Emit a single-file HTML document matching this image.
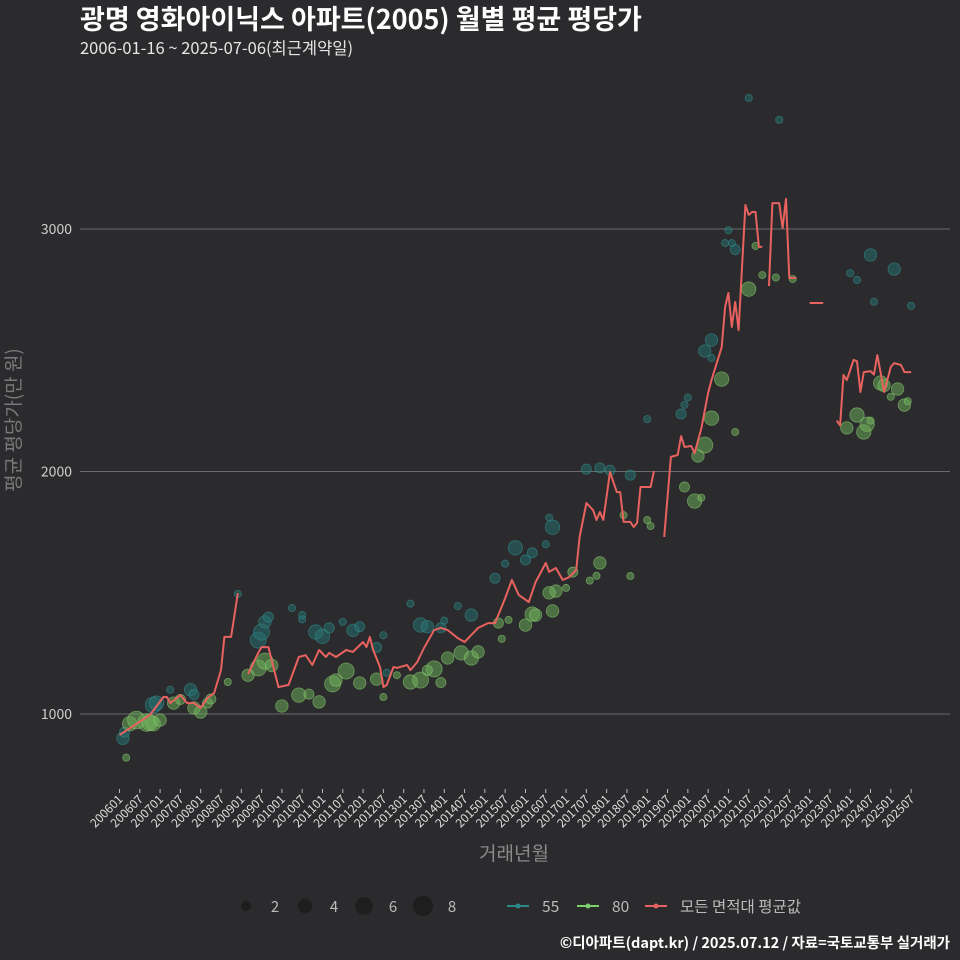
<!DOCTYPE html>
<html><head><meta charset="utf-8">
<style>
body{margin:0;background:#2b2b2d;}
svg{display:block;font-family:"Noto Sans CJK KR","Liberation Sans",sans-serif;}
</style></head>
<body>
<svg id="chart" width="960" height="960" viewBox="0 0 960 960">
<rect width="960" height="960" fill="#2b2b2d"/>
<text x="80" y="29" fill="#ffffff" font-size="27" font-weight="bold">광명 영화아이닉스 아파트(2005) 월별 평균 평당가</text>
<text x="80" y="54" fill="#e6e6e6" font-size="16.5">2006-01-16 ~ 2025-07-06(최근계약일)</text>
<g id="grid"></g>
<g id="yticks"></g>
<g id="xticks"></g>
<g id="bubbles"></g>
<g id="line"></g>
<text transform="translate(20,420) rotate(-90)" text-anchor="middle" fill="#7a7a7a" font-size="19">평균 평당가(만 원)</text>
<text x="514" y="860" text-anchor="middle" fill="#8a8a8a" font-size="19">거래년월</text>
<g id="legend"></g>
<text x="950" y="948" text-anchor="end" fill="#ffffff" font-size="14.5" font-weight="bold">©디아파트(dapt.kr) / 2025.07.12 / 자료=국토교통부 실거래가</text>
</svg>
<script>
// ---- data ----
const yTicks = [1000, 2000, 3000];
const xTickLabels = ["200601","200607","200701","200707","200801","200807","200901","200907","201001","201007","201101","201107","201201","201207","201301","201307","201401","201407","201501","201507","201601","201607","201701","201707","201801","201807","201901","201907","202001","202007","202101","202107","202201","202207","202301","202307","202401","202407","202501","202507"];
// month index since 2006-01; null = gap
const lineMonths = [0,9,13,14,15,18,20,22,24,26,28,30,31,33,35,null,38,41,42,44,47,50,53,55,57,59,61,62,64,67,69,72,73,74,75,77,78,79,81,82,85,86,88,90,93,95,97,100,102,106,109,111,114,116,118,121,123,126,127,129,131,133,135,136,138,140,141,142,143,145,147,148,149,151,152,153,154,157,158,null,161,163,165,166,167,169,170,172,174,175,178,179,180,181,182,183,185,186,187,188,189,190,null,192,193,195,196,197,198,200,null,204,208,null,212,213,214,215,217,218,219,220,222,223,224,225,226,228,229,231,232,234];
const lineValues = [913,996,1070,1070,1045,1078,1045,1045,1025,1066,1087,1181,1318,1318,1499,null,1165,1252,1276,1276,1111,1120,1235,1243,1202,1264,1235,1252,1235,1264,1256,1297,1276,1318,1264,1194,1111,1120,1194,1190,1202,1181,1214,1272,1346,1355,1346,1313,1297,1355,1375,1375,1478,1553,1491,1462,1544,1623,1586,1602,1553,1565,1594,1730,1870,1841,1800,1833,1800,1998,1915,1915,1792,1792,1771,1788,1936,1936,2002,null,1730,2060,2068,2146,2101,2105,2076,2179,2324,2377,2513,2678,2736,2596,2699,2583,3099,3058,3070,3070,2926,2926,null,2765,3107,3107,3004,3124,2798,2798,null,2695,2695,null,2210,2190,2398,2377,2460,2455,2328,2410,2414,2400,2480,2406,2328,2431,2447,2439,2410,2410];
const s55Months = [1,1.5,10,11,15,21,22,35,41,42,43,44,54,58,60,62,66,69,71,51,54,76,78,79,89,91,86,95,104,100,96,111,114,117,120,122,126,128,127,138,142,145,151,156,166,167,168,173,175,175,179,180,181,182,186,195,222,229,216,218,223,234];
const s55Values = [900,925,1037,1045,1100,1100,1080,1495,1305,1338,1380,1400,1390,1338,1320,1355,1380,1345,1360,1437,1408,1275,1325,1170,1367,1360,1455,1355,1408,1445,1385,1560,1620,1685,1635,1665,1700,1770,1810,2010,2015,2005,1985,2216,2237,2275,2305,2497,2542,2468,2942,2995,2942,2915,3540,3450,2893,2835,2818,2790,2700,2683];
const s55Counts = [3,2,5,4,1,3,2,1,5,5,3,2,1,4,4,2,1,3,2,1,1,2,1,1,4,3,1,2,3,1,1,2,1,4,2,2,1,4,1,2,2,2,2,1,2,1,1,3,3,1,1,1,1,2,1,1,3,3,1,1,1,1];
const g80Months = [2,3,5,8,9,10,12,16,18,22,24,26,27,32,38,41,43,45,48,53,56,59,63,64,67,71,76,78,82,86,89,93,97,101,104,106,91,95,112,115,113,120,122,123,128,129,127,132,134,139,142,141,151,149,156,157,167,170,172,171,173,175,178,182,186,188,190,194,199,215,218,220,221,222,225,226,228,230,232,233];
const g80Values = [820,960,975,965,965,960,975,1045,1060,1025,1008,1045,1062,1132,1160,1190,1218,1200,1033,1078,1082,1050,1124,1140,1177,1128,1144,1070,1160,1132,1140,1186,1231,1252,1231,1256,1180,1130,1375,1388,1310,1367,1412,1408,1425,1507,1500,1520,1585,1550,1623,1570,1569,1820,1800,1775,1936,1878,1892,2064,2109,2220,2381,2163,2752,2930,2810,2800,2794,2180,2233,2163,2195,2210,2365,2355,2308,2340,2274,2290];
const g80Counts = [1,4,6,6,5,4,3,3,2,3,3,2,2,1,3,5,5,3,3,4,2,3,5,3,5,3,3,1,1,4,5,5,3,4,4,3,2,2,2,1,1,3,4,3,3,3,3,1,2,1,3,1,1,1,1,1,2,4,1,3,5,4,4,1,4,1,1,1,1,3,4,4,4,1,4,3,1,3,3,1];

// ---- scales ----
const NS = "http://www.w3.org/2000/svg";
function xScale(m){ return 119.5 + m * 3.383; }
function yScale(v){ return 714 - (v - 1000) * 0.2425; }
function rScale(c){ return Math.sqrt(c) * 3.6; }
function mk(tag, attrs, parent){ const e=document.createElementNS(NS,tag); for(const k in attrs) e.setAttribute(k,attrs[k]); parent.appendChild(e); return e; }

const grid=document.getElementById('grid'), yt=document.getElementById('yticks');
yTicks.forEach(v=>{
  const l=mk('line',{x1:80,x2:950,y1:yScale(v),y2:yScale(v),stroke:'#6a6a6a','stroke-width':1},grid);
  
  
  const t=mk('text',{x:72,y:yScale(v)+5,'text-anchor':'end',fill:'#d0d0d0','font-size':14},yt);
  t.textContent=v;
  
  
});
const xt=document.getElementById('xticks');
xTickLabels.forEach((lab,i)=>{
  const x=xScale(i*6);
  const l=mk('line',{x1:x,x2:x,y1:789,y2:793,stroke:'#bbbbbb','stroke-width':1},xt);
  
  
  const t=mk('text',{transform:`translate(${x+4},${800}) rotate(-45)`,'text-anchor':'end',fill:'#dddddd','font-size':12},xt);
  t.textContent=lab;
  
  
});

const bg=document.getElementById('bubbles');
function drawSeries(ms,vs,cs,fill,stroke,name){
  for(let i=0;i<ms.length;i++){
    const c=mk('circle',{cx:xScale(ms[i]),cy:yScale(vs[i]),r:rScale(cs[i]),fill:fill,stroke:stroke,'stroke-width':0.8},bg);
    
    
  }
}
drawSeries(s55Months,s55Values,s55Counts,'rgba(38,115,115,0.5)','rgba(55,145,145,0.6)','bubble-55');
drawSeries(g80Months,g80Values,g80Counts,'rgba(112,180,92,0.5)','rgba(140,205,115,0.6)','bubble-80');

const lg=document.getElementById('line');
let segs=[],cur=[];
for(let i=0;i<lineMonths.length;i++){
  if(lineMonths[i]===null){ if(cur.length) segs.push(cur); cur=[]; continue; }
  cur.push(xScale(lineMonths[i]).toFixed(1)+','+yScale(lineValues[i]).toFixed(1));
}
if(cur.length) segs.push(cur);
segs.forEach(s=>{
  const p=mk('polyline',{points:s.join(' '),fill:'none',stroke:'#e8625f','stroke-width':2,'stroke-linejoin':'round'},lg);
  
  
});

// legend
const leg=document.getElementById('legend');
[[2,246],[4,305],[6,364],[8,423]].forEach(([c,x])=>{
  const e=mk('circle',{cx:x,cy:906,r:rScale(c),fill:'#1e1e1e'},leg);
  
  
  const t=mk('text',{x:x+29,y:912,'text-anchor':'middle',fill:'#bbbbbb','font-size':15},leg);
  t.textContent=c;
  
  
});
[['55',507,'#2a8a8a'],['80',577,'#7dd16a'],['모든 면적대 평균값',645,'#e8625f']].forEach(([lab,x,col])=>{
  const l=mk('line',{x1:x,x2:x+22,y1:906,y2:906,stroke:col,'stroke-width':2},leg);
  
  
  const d=mk('circle',{cx:x+11,cy:906,r:2.5,fill:col},leg);
  
  
  const t=mk('text',{x:x+35,y:912,fill:'#bbbbbb','font-size':15.5},leg);
  t.textContent=lab;
  
  
});
</script>
</body></html>
